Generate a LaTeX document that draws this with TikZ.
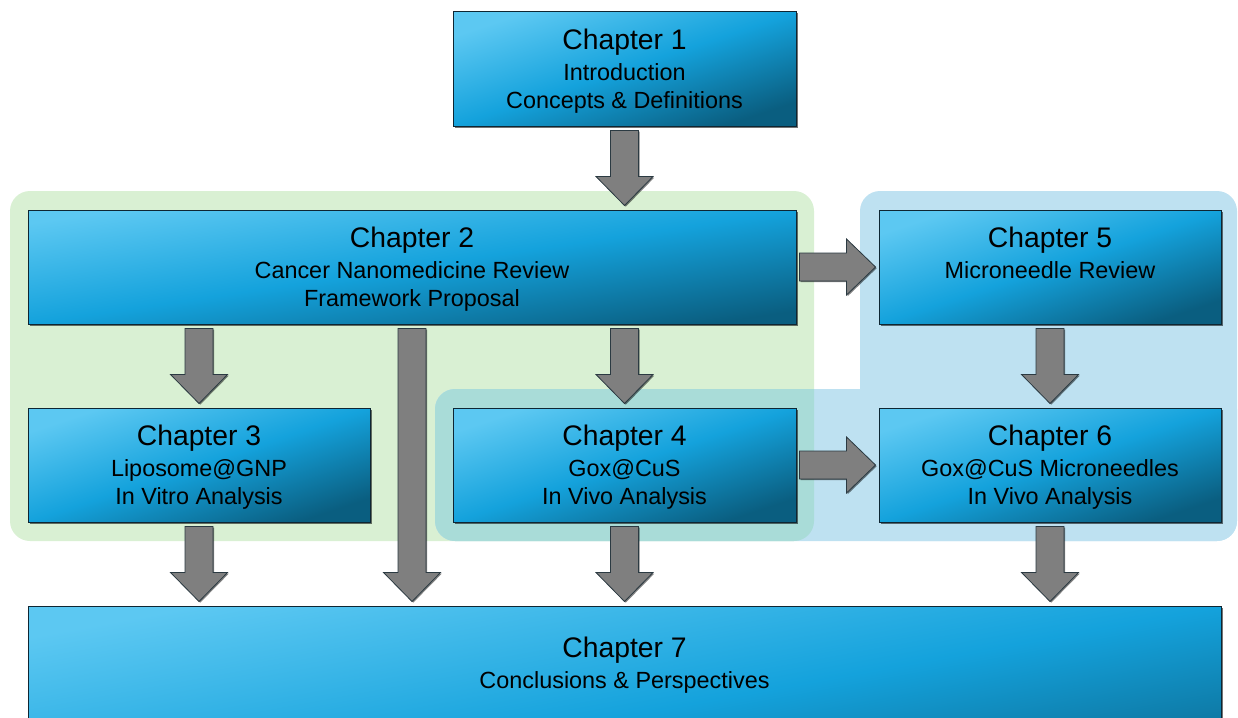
\documentclass[tikz,border=0pt]{standalone}
\usepackage{fontspec}
\setmainfont{Liberation Sans}
\usetikzlibrary{calc,shadows}

\definecolor{boxlight}{HTML}{5CC8F2}
\definecolor{boxmid}{HTML}{14A2DC}
\definecolor{boxdark}{HTML}{0A5E80}
\definecolor{boxedge}{HTML}{0E2633}
\definecolor{arrowgray}{HTML}{7F7F7F}
\definecolor{arrowedge}{HTML}{2B3A42}
\definecolor{groupgreen}{HTML}{D9F0D3}
\definecolor{groupblue}{HTML}{BEE1F1}
\definecolor{groupteal}{HTML}{A9DCD8}

\tikzset{
  % #1 = tilt of the colour gradient (light top-left, dark bottom-right)
  chapterbox/.style={draw=boxedge, line width=1pt, inner sep=0pt,
    top color=boxlight, bottom color=boxdark, middle color=boxmid,
    shading angle=#1,
    drop shadow={shadow xshift=1.5pt, shadow yshift=-1.5pt, opacity=0.55, fill=black}},
  chapterbox/.default=18.4,
  titletext/.style={anchor=base, inner sep=0pt, text=black,
    font=\fontsize{28.3}{33}\selectfont},
  subtext/.style={anchor=base, inner sep=0pt, text=black,
    font=\fontsize{23.4}{28}\selectfont},
  blockarrow/.style={fill=arrowgray, draw=arrowedge, line width=0.8pt,
    line join=miter,
    drop shadow={shadow xshift=1.2pt, shadow yshift=-1.2pt, opacity=0.5, fill=black}}
}

% downward block arrow between two points (4pt gap at both ends)
\newcommand\arrowdown[2]{%
  \draw[blockarrow] let \p1=($(#1)+(0,4)$), \p2=($(#2)+(0,-4)$) in
    ({\x1-14pt},\y1) -- ({\x1-14pt},{\y2+29pt}) -- ({\x1-28.5pt},{\y2+29pt})
    -- (\x1,\y2) -- ({\x1+28.5pt},{\y2+29pt}) -- ({\x1+14pt},{\y2+29pt})
    -- ({\x1+14pt},\y1) -- cycle;}
% rightward block arrow between two points (3pt gap at both ends)
\newcommand\arrowright[2]{%
  \draw[blockarrow] let \p1=($(#1)+(3,0)$), \p2=($(#2)+(-3,0)$) in
    (\x1,{\y1+14pt}) -- ({\x2-29pt},{\y1+14pt}) -- ({\x2-29pt},{\y1+28pt})
    -- (\x2,\y1) -- ({\x2-29pt},{\y1-28pt}) -- ({\x2-29pt},{\y1-14pt})
    -- (\x1,{\y1-14pt}) -- cycle;}

\begin{document}
\begin{tikzpicture}[x=1pt, y=-1pt]
  \useasboundingbox (0,0) rectangle (1238,717);
  \clip (0,0) rectangle (1238,717);

  % group backgrounds
  \fill[groupgreen, rounded corners=20pt] (10,191) rectangle (814,541);
  \fill[groupblue, rounded corners=20pt] (860,191) rectangle (1237,541);
  \fill[groupblue, rounded corners=20pt] (435,389) rectangle (1237,541);
  \begin{scope}
    \clip[rounded corners=20pt] (10,191) rectangle (814,541);
    \fill[groupteal, rounded corners=20pt] (435,389) rectangle (1237,541);
  \end{scope}

  % chapter boxes
  \node[chapterbox, minimum width=343pt, minimum height=114pt] (c1) at (624.5,69) {};
  \node[chapterbox=8.4, minimum width=768pt, minimum height=114pt] (c2) at (412,267) {};
  \node[chapterbox, minimum width=342pt, minimum height=114pt] (c5) at (1050,267) {};
  \node[chapterbox, minimum width=342pt, minimum height=114pt] (c3) at (199,465) {};
  \node[chapterbox, minimum width=343pt, minimum height=114pt] (c4) at (624.5,465) {};
  \node[chapterbox, minimum width=342pt, minimum height=114pt] (c6) at (1050,465) {};
  \node[chapterbox=10.4, minimum width=1193pt, minimum height=220pt] (c7) at (624.5,716) {};

  % chapter texts
  \node[titletext] (c1-title) at ([yshift=-38pt]c1.north) {Chapter 1};
  \node[subtext] (c1-a) at ([yshift=-68.5pt]c1.north) {Introduction};
  \node[subtext] (c1-b) at ([yshift=-96.5pt]c1.north) {Concepts \& Definitions};

  \node[titletext] (c2-title) at ([yshift=-38pt]c2.north) {Chapter 2};
  \node[subtext] (c2-a) at ([yshift=-68.5pt]c2.north) {Cancer Nanomedicine Review};
  \node[subtext] (c2-b) at ([yshift=-96.5pt]c2.north) {Framework Proposal};

  \node[titletext] (c5-title) at ([yshift=-38pt]c5.north) {Chapter 5};
  \node[subtext] (c5-a) at ([yshift=-68.5pt]c5.north) {Microneedle Review};

  \node[titletext] (c3-title) at ([yshift=-38pt]c3.north) {Chapter 3};
  \node[subtext] (c3-a) at ([yshift=-68.5pt]c3.north) {Liposome@GNP};
  \node[subtext] (c3-b) at ([yshift=-96.5pt]c3.north) {In Vitro Analysis};

  \node[titletext] (c4-title) at ([yshift=-38pt]c4.north) {Chapter 4};
  \node[subtext] (c4-a) at ([yshift=-68.5pt]c4.north) {Gox@CuS};
  \node[subtext] (c4-b) at ([yshift=-96.5pt]c4.north) {In Vivo Analysis};

  \node[titletext] (c6-title) at ([yshift=-38pt]c6.north) {Chapter 6};
  \node[subtext] (c6-a) at ([yshift=-68.5pt]c6.north) {Gox@CuS Microneedles};
  \node[subtext] (c6-b) at ([yshift=-96.5pt]c6.north) {In Vivo Analysis};

  \node[titletext] (c7-title) at ([yshift=-51.5pt]c7.north) {Chapter 7};
  \node[subtext] (c7-a) at ([yshift=-82.5pt]c7.north) {Conclusions \& Perspectives};

  % connectors
  \arrowdown{c1.south}{c2.north}
  \arrowright{c2.east}{c5.west}
  \arrowdown{c3.north |- c2.south}{c3.north}
  \arrowdown{c2.south}{c2.south |- c7.north}
  \arrowdown{c4.north |- c2.south}{c4.north}
  \arrowdown{c5.south}{c6.north}
  \arrowright{c4.east}{c6.west}
  \arrowdown{c3.south}{c3.south |- c7.north}
  \arrowdown{c4.south}{c4.south |- c7.north}
  \arrowdown{c6.south}{c6.south |- c7.north}
\end{tikzpicture}
\end{document}
